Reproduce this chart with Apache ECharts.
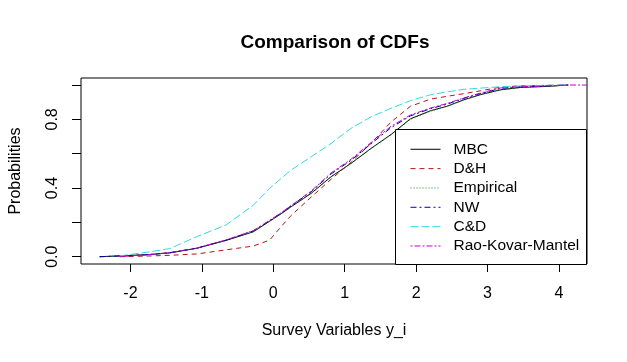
<!DOCTYPE html>
<html>
<head>
<meta charset="utf-8">
<script src="https://cdn.jsdelivr.net/npm/echarts@6/dist/echarts.min.js"></script>
<style>
  html, body { margin: 0; padding: 0; background: #fff; }
  #chart { width: 627px; height: 362px; }
</style>
</head>
<body>
<div id="chart"></div>
<script>
const xGrid = [-2.43, -2.15, -1.75, -1.45, -1.07, -0.66, -0.28, -0.05, 0.11, 0.25, 0.53, 0.81,
  1.09, 1.37, 1.65, 1.92, 2.2, 2.43, 2.67, 2.9, 3.18, 3.46, 3.83, 4.13, 4.39]

// cumulative probabilities per method
const mbc = [0, 0.005, 0.012, 0.022, 0.049, 0.095, 0.145, 0.207, 0.25, 0.291, 0.369, 0.466,
  0.544, 0.631, 0.712, 0.803, 0.85, 0.876, 0.914, 0.944, 0.972, 0.986, 0.992, 1.0, null]
const dh = [null, 0, 0.004, 0.008, 0.016, 0.04, 0.062, 0.097, 0.175, 0.24, 0.347, 0.451,
  0.55, 0.661, 0.785, 0.876, 0.918, 0.934, 0.95, 0.966, 0.988, 0.995, 0.998, 1.0, null]
const empirical = [0, 0.005, 0.013, 0.023, 0.05, 0.096, 0.146, 0.208, 0.251, 0.29, 0.368, 0.464,
  0.543, 0.63, 0.71, 0.8, 0.848, 0.875, 0.912, 0.943, 0.971, 0.985, 0.992, 1.0, null]
const nw = [0, 0.004, 0.012, 0.023, 0.05, 0.097, 0.15, 0.21, 0.254, 0.296, 0.378, 0.482,
  0.562, 0.658, 0.752, 0.82, 0.862, 0.888, 0.922, 0.95, 0.98, 0.989, 0.995, 1.0, null]
const cd = [null, 0.005, 0.027, 0.047, 0.117, 0.185, 0.30, 0.398, 0.456, 0.505, 0.582, 0.66,
  0.748, 0.815, 0.865, 0.909, 0.943, 0.96, 0.975, 0.982, 0.99, 0.995, 0.999, 1.0, null]
const rkm = [null, 0, 0.012, 0.024, 0.05, 0.098, 0.152, 0.212, 0.256, 0.298, 0.382, 0.488,
  0.568, 0.665, 0.76, 0.825, 0.866, 0.892, 0.925, 0.953, 0.983, 0.99, 0.995, 1.0, 1.0]

const xTicks = [-2, -1, 0, 1, 2, 3, 4]
const yTicks = [0, 0.2, 0.4, 0.6, 0.8, 1.0]
const yLabels = [0, 0.4, 0.8]

const FONT = 'Liberation Sans, Arial, sans-serif'

const makeSeries = (name, values, color, dash) => ({
  name,
  type: 'line',
  data: xGrid.map((x, i) => [x, values[i]]),
  symbol: 'none',
  connectNulls: false,
  lineStyle: { color, width: 1, type: dash },
  itemStyle: { color },
  emphasis: { disabled: true }
})

const chart = echarts.init(document.getElementById('chart'))

chart.setOption({
  animation: false,
  backgroundColor: '#fff',
  title: {
    text: 'Comparison of CDFs',
    left: 330,
    top: 28,
    textAlign: 'center',
    textStyle: { fontFamily: FONT, fontSize: 19, fontWeight: 'bold', color: '#000' }
  },
  grid: {
    left: 78, right: 40, top: 78, bottom: 98,
    show: true, borderColor: '#000', borderWidth: 1
  },
  xAxis: {
    type: 'value',
    min: -2.692,
    max: 4.393,
    name: 'Survey Variables y_i',
    nameLocation: 'middle',
    nameGap: 59,
    nameTextStyle: { fontFamily: FONT, fontSize: 16, color: '#000' },
    axisLine: { show: false, onZero: false },
    splitLine: { show: false },
    axisTick: { show: true, length: 8, customValues: xTicks, lineStyle: { color: '#000' } },
    axisLabel: {
      customValues: xTicks, margin: 22,
      fontFamily: FONT, fontSize: 16, color: '#000'
    }
  },
  yAxis: {
    type: 'value',
    min: -0.0425,
    max: 1.041,
    name: 'Probabilities',
    nameLocation: 'middle',
    nameGap: 57,
    nameTextStyle: { fontFamily: FONT, fontSize: 16, color: '#000' },
    axisLine: { show: false, onZero: false },
    splitLine: { show: false },
    axisTick: { show: true, length: 9, customValues: yTicks, lineStyle: { color: '#000' } },
    axisLabel: {
      customValues: yLabels, rotate: 90, margin: 20,
      formatter: v => v.toFixed(1),
      fontFamily: FONT, fontSize: 16, color: '#000'
    }
  },
  graphic: [{
    type: 'rect',
    z: 5,
    shape: { x: 395.5, y: 129.5, width: 191, height: 135 },
    style: { fill: '#fff', stroke: '#000', lineWidth: 1 }
  }],
  legend: {
    orient: 'vertical',
    left: 410,
    top: 139.6,
    z: 6,
    padding: 0,
    itemWidth: 30,
    itemHeight: 10,
    itemGap: 0,
    itemStyle: { opacity: 0 },
    lineStyle: { width: 1 },
    data: ['MBC', 'D&H', 'Empirical', 'NW', 'C&D', 'Rao-Kovar-Mantel'],
    textStyle: {
      fontFamily: FONT, fontSize: 15.5, color: '#000',
      lineHeight: 19.34, padding: [0, 0, 0, 8]
    }
  },
  series: [
    makeSeries('MBC', mbc, '#000000', 'solid'),
    makeSeries('D&H', dh, '#b81414', [5, 4]),
    makeSeries('Empirical', empirical, '#0a960a', [1, 2]),
    makeSeries('NW', nw, '#0000b4', [6, 3, 2, 3]),
    makeSeries('C&D', cd, '#30dbe6', [8, 3]),
    makeSeries('Rao-Kovar-Mantel', rkm, '#c800c8', [2, 2, 6, 2])
  ]
})
</script>
</body>
</html>
